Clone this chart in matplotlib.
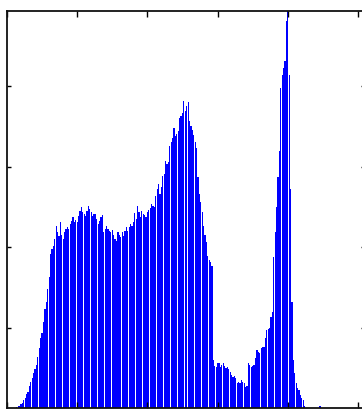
import matplotlib
matplotlib.use("Agg")
import matplotlib.pyplot as plt
import numpy as np

# cuentas por nivel de gris (0..255)
niveles = np.arange(256)
cuentas = [
    0, 0, 0, 0, 0, 0, 0, 10, 15, 20,
    40, 50, 80, 100, 140, 160, 220, 260, 300, 350,
    390, 430, 510, 600, 700, 750, 850, 980, 1050, 1180,
    1300, 1530, 1580, 1610, 1680, 1810, 1750, 1710, 1850, 1720,
    1680, 1750, 1780, 1800, 1780, 1830, 1860, 1900, 1850, 1870,
    1850, 1910, 1960, 2000, 1950, 1930, 1910, 1960, 2010, 1980,
    1950, 1910, 1930, 1930, 1880, 1830, 1860, 1900, 1920, 1750,
    1780, 1810, 1780, 1760, 1750, 1770, 1720, 1680, 1660, 1750,
    1720, 1700, 1750, 1710, 1760, 1800, 1760, 1800, 1830, 1810,
    1850, 1940, 1880, 2010, 1950, 1900, 1960, 1930, 1920, 1900,
    1950, 1970, 1990, 2030, 2010, 2000, 2110, 2180, 2230, 2130,
    2200, 2310, 2330, 2460, 2430, 2450, 2600, 2640, 2680, 2780,
    2700, 2720, 2750, 2880, 2900, 2930, 3050, 2950, 3000, 3040,
    2850, 2800, 2760, 2710, 2640, 2580, 2300, 2130, 2050, 1950,
    1810, 1720, 1650, 1510, 1470, 1450, 1410, 480, 420, 410,
    450, 450, 410, 430, 450, 420, 400, 410, 390, 360,
    330, 310, 320, 300, 250, 260, 250, 280, 260, 250,
    210, 220, 450, 430, 410, 420, 430, 500, 580, 560,
    550, 600, 610, 610, 700, 780, 790, 800, 900, 950,
    1500, 1750, 2000, 2300, 2550, 3180, 3310, 3380, 3450, 3850,
    4100, 3310, 2180, 1050, 480, 350, 250, 200, 180, 130,
    100, 80, 20, 0, 0, 0, 0, 0, 0, 0,
    0, 0, 0, 20, 0, 0, 0, 0, 0, 0,
    0, 0, 0, 0, 0, 0, 0, 0, 0, 0,
    0, 0, 0, 0, 0, 0, 0, 0, 0, 0,
    0, 0, 0, 0, 0, 0,
]
marcas_x = [0, 50, 100, 150, 200, 250]
marcas_y = [800, 1600, 2400, 3200]

fig = plt.figure(figsize=(3.62, 4.12), dpi=100)
ax = fig.add_axes([7 / 362, 4 / 412, 358 / 362, 397 / 412])

# barras sin suavizado: los huecos entre ellas salen como rayas finas
ax.bar(niveles, cuentas, width=0.86, color="#0000ff", linewidth=0, antialiased=False)

ax.set_xlim(0, 255)
ax.set_ylim(0, 3946)
ax.set_xticks(marcas_x)
ax.set_yticks(marcas_y)
ax.set_xticklabels([])
ax.set_yticklabels([])
ax.tick_params(axis="both", direction="in", top=True, right=True, width=1.0, color="black")
ax.tick_params(axis="x", length=4)
ax.tick_params(axis="y", length=3)
for lado in ax.spines.values():
    lado.set_linewidth(1.3)
    lado.set_color("#111111")

fig.savefig("out.png", dpi=100)
